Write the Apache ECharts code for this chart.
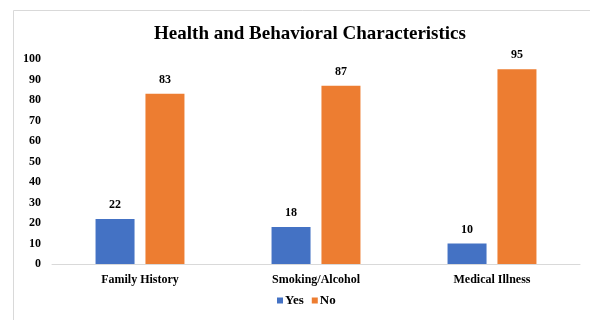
<!DOCTYPE html>
<html>
<head>
<meta charset="utf-8">
<script src="https://cdn.jsdelivr.net/npm/echarts@6/dist/echarts.min.js"></script>
<style>
  html, body { margin: 0; padding: 0; background: #fff; }
  #main { width: 590px; height: 320px; }
</style>
</head>
<body>
<div id="main"></div>
<script>
// chart data
var categories = ["Family History", "Smoking/Alcohol", "Medical Illness"];
var yesValues = [22, 18, 10];
var noValues = [83, 87, 95];

var serif = "Liberation Serif";

var labelStyle = {
  show: true,
  position: "top",
  distance: 8,
  color: "#000",
  fontFamily: serif,
  fontWeight: "bold",
  fontSize: 12
};

var chart = echarts.init(document.getElementById("main"));
chart.setOption({
  animation: false,
  backgroundColor: "#fff",
  title: {
    text: "Health and Behavioral Characteristics",
    left: 305,
    textAlign: "center",
    top: 20,
    textStyle: {
      fontFamily: serif,
      fontWeight: "bold",
      fontSize: 19,
      color: "#000"
    }
  },
  legend: {
    bottom: 8,
    left: 272,
    icon: "rect",
    itemWidth: 6,
    itemHeight: 6,
    itemGap: 8,
    textStyle: {
      fontFamily: serif,
      fontWeight: "bold",
      fontSize: 13,
      color: "#000",
      padding: [0, 0, 0, -3]
    },
    data: ["Yes", "No"]
  },
  graphic: [
    {
      type: "rect",
      shape: { x: 13.5, y: 10.5, width: 620, height: 330 },
      style: { fill: "none", stroke: "#d9d9d9", lineWidth: 1 },
      silent: true
    }
  ],
  grid: {
    left: 52,
    right: 10,
    top: 59,
    bottom: 56,
    containLabel: false
  },
  xAxis: {
    type: "category",
    data: categories,
    axisLine: { lineStyle: { color: "#d9d9d9", width: 1 } },
    axisTick: { show: false },
    axisLabel: {
      margin: 10,
      color: "#000",
      fontFamily: serif,
      fontWeight: "bold",
      fontSize: 12
    }
  },
  yAxis: {
    type: "value",
    min: 0,
    max: 100,
    interval: 10,
    axisLine: { show: false },
    axisTick: { show: false },
    splitLine: { show: false },
    axisLabel: {
      margin: 11,
      color: "#000",
      fontFamily: serif,
      fontWeight: "bold",
      fontSize: 12
    }
  },
  series: [
    {
      name: "Yes",
      type: "bar",
      data: yesValues,
      barWidth: 39,
      barGap: "28%",
      itemStyle: { color: "#4472C4" },
      label: labelStyle
    },
    {
      name: "No",
      type: "bar",
      data: noValues,
      barWidth: 39,
      barGap: "28%",
      itemStyle: { color: "#ED7D31" },
      label: labelStyle
    }
  ]
});
</script>
</body>
</html>
